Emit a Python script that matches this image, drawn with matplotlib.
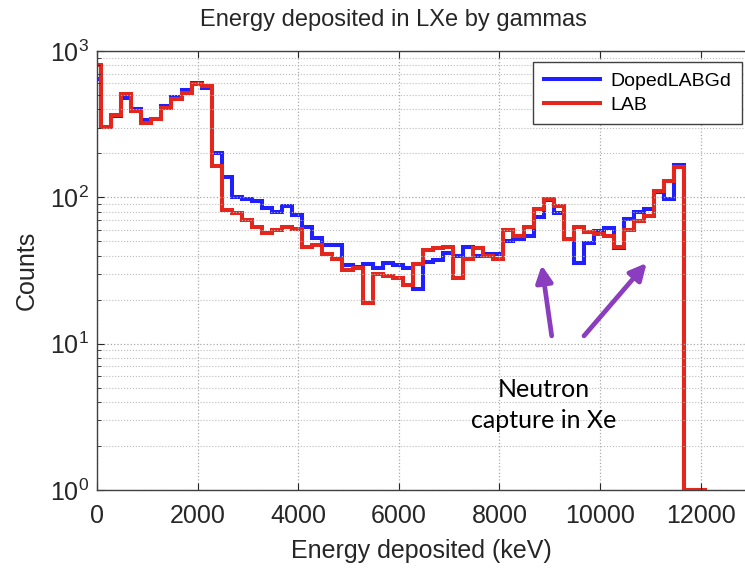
import matplotlib
matplotlib.use("Agg")
import matplotlib.pyplot as plt
import numpy as np

plt.rcParams["font.family"] = ["Liberation Sans", "DejaVu Sans"]

# ── Data (200 keV bins) ──────────────────────────────────────────────────────
bin_edges = [-120 + 200 * k for k in range(62)]

doped_lab_gd = [641, 301, 360, 475, 400, 337, 343, 421, 488, 541, 607, 561,
                202, 138, 101, 98, 94, 85, 80, 87, 76, 63, 52.5, 47, 47,
                34.4, 33.6, 34.8, 32.7, 35.4, 34.4, 32.7, 23.5, 36.3, 37.3,
                41.8, 39.7, 45.5, 40, 41, 41, 50.5, 52, 54.3, 72.9, 95.9,
                78.5, 51.6, 35.4, 48.6, 59.1, 61.4, 45, 70.7, 79.8, 82.8,
                109, 97, 166, 1, 1]

lab = [802, 301, 365, 506, 389, 321, 343, 406, 468, 514, 592, 577,
       163, 82, 78, 70, 63, 57, 60, 63, 61, 46, 47, 41, 38,
       32, 33, 19, 30, 29, 28, 25, 35, 44, 45,
       46, 28, 38, 45, 40, 38, 60, 54, 63, 83, 98,
       87, 52, 63, 58, 56, 54, 46, 60, 69, 75,
       111, 130, 162, 1, 1]

x_ticks = [0, 2000, 4000, 6000, 8000, 10000, 12000]

# ── Figure ───────────────────────────────────────────────────────────────────
fig = plt.figure(figsize=(7.45, 5.68), dpi=100)
ax = fig.add_axes([97 / 745, 78 / 568, 648 / 745, 439 / 568])

ax.stairs(doped_lab_gd, bin_edges, color="#1f1fff", lw=2.9, label="DopedLABGd")
ax.stairs(lab, bin_edges, color="#e4261c", lw=2.9, label="LAB")

ax.set_yscale("log")
ax.set_ylim(1, 1000)
ax.set_xlim(0, 12883)
ax.set_xticks(x_ticks)

ax.grid(True, which="major", ls=":", color="#aaaaaa", lw=0.9)
ax.grid(True, which="minor", axis="y", ls=":", color="#bbbbbb", lw=0.8)
ax.tick_params(which="both", direction="in", top=True, right=False,
               labelsize=18, colors="#262626")
ax.tick_params(axis="x", pad=10)
ax.tick_params(axis="y", pad=6)
ax.tick_params(which="major", length=5)
ax.tick_params(which="minor", length=3)
for side in ("left", "bottom", "top"):
    ax.spines[side].set_color("#404040")
    ax.spines[side].set_linewidth(1.0)
ax.spines["right"].set_visible(False)

ax.set_title("Energy deposited in LXe by gammas", fontsize=17, color="#262626",
             x=0.458, pad=18)
ax.set_xlabel("Energy deposited (keV)", fontsize=18, color="#262626", labelpad=8)
ax.set_ylabel("Counts", fontsize=18, color="#262626", labelpad=8)

leg = ax.legend(loc="upper right", bbox_to_anchor=(0.995, 0.975), fontsize=14,
                fancybox=False, framealpha=1, edgecolor="#404040",
                handlelength=2.9, borderpad=0.55, labelspacing=0.3,
                handletextpad=0.5, borderaxespad=0)
leg.get_frame().set_linewidth(1.0)

# Neutron capture annotation
arrow_kw = dict(arrowstyle="-|>,head_length=1.0,head_width=0.5",
                color="#8b3dbf", lw=3.4, shrinkA=0, shrinkB=0)
ax.annotate("", xy=(8841, 34.4), xytext=(9040, 11.3), arrowprops=arrow_kw)
ax.annotate("", xy=(10928, 35.6), xytext=(9682, 11.3), arrowprops=arrow_kw)
ax.text(8880, 3.8, "Neutron\ncapture in Xe", ha="center", va="center",
        fontsize=18, family=["Lato", "DejaVu Sans"], linespacing=1.4)

fig.savefig("out.png", dpi=100)
